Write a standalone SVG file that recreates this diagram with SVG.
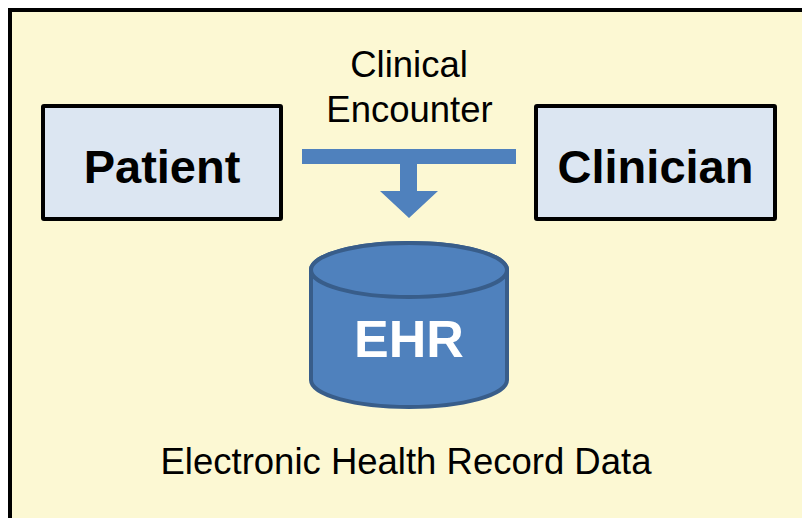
<svg xmlns="http://www.w3.org/2000/svg" width="802" height="518" viewBox="0 0 802 518">
<style>
.box{fill:#dce6f2;stroke:#000;stroke-width:4}
.lbl{font-family:"Liberation Sans",Arial,sans-serif;font-weight:bold;font-size:47px;fill:#000;text-anchor:middle}
.txt{font-family:"Liberation Sans",Arial,sans-serif;font-size:36.5px;fill:#000;text-anchor:middle}
</style>
<rect width="802" height="518" fill="#fff"/>
<rect id="frame" x="10" y="10" width="820" height="540" fill="#fcf8d3" stroke="#000" stroke-width="4"/>
<g id="patient">
<rect class="box" x="43" y="106" width="238" height="113" rx="1"/>
<text class="lbl" x="162" y="183">Patient</text>
</g>
<g id="clinician">
<rect class="box" x="536" y="106" width="239" height="113" rx="1"/>
<text class="lbl" x="655.5" y="183">Clinician</text>
</g>
<g id="connectors">
<text class="txt" x="409" y="77" font-size="36">Clinical</text>
<text class="txt" x="409.5" y="122">Encounter</text>
<path d="M302 149H516V164H417V191H438L409 218L380 191H400V164H302Z" fill="#4f81bd"/>
</g>
<g id="ehr">
<path d="M311 270V380A98 27 0 0 0 507 380V270A98 27 0 0 0 311 270Z" fill="#4f81bd" stroke="#385d8a" stroke-width="4"/>
<ellipse cx="409" cy="270" rx="98" ry="27" fill="#4f81bd" stroke="#385d8a" stroke-width="4"/>
<text x="409" y="357" font-family="'Liberation Sans',Arial,sans-serif" font-weight="bold" font-size="52" fill="#fff" text-anchor="middle">EHR</text>
</g>
<text id="caption" class="txt" x="406" y="474" font-size="38">Electronic Health Record Data</text>
</svg>
